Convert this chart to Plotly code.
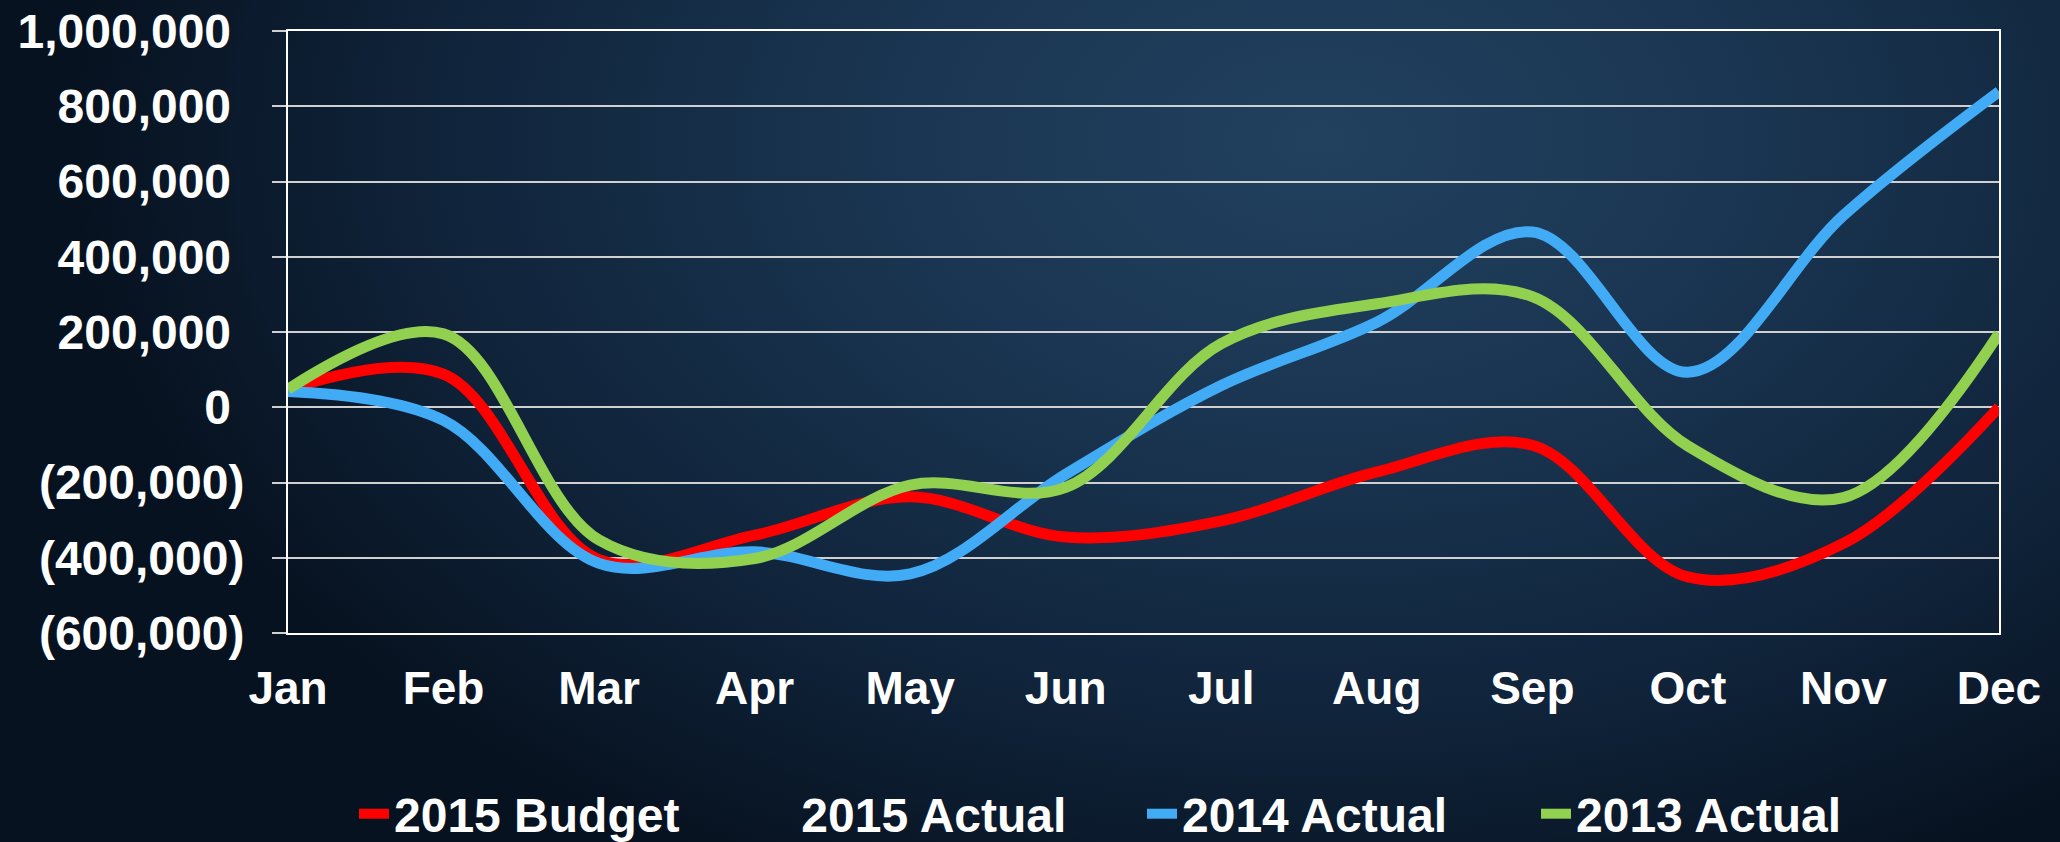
import base64
import plotly.graph_objects as go

months = ["Jan", "Feb", "Mar", "Apr", "May", "Jun", "Jul", "Aug", "Sep", "Oct", "Nov", "Dec"]
budget_2015 = [48000, 88000, -405000, -340000, -238000, -345000, -302000, -172000, -101000, -451000, -362000, 0]
actual_2015 = [None] * 12
actual_2014 = [42000, -35000, -415000, -384000, -443000, -178000, 58000, 226000, 466000, 93000, 510000, 839000]
actual_2013 = [48000, 195000, -353000, -402000, -207000, -213000, 169000, 275000, 294000, -103000, -240000, 196000]

y_tickvals = [-600000, -400000, -200000, 0, 200000, 400000, 600000, 800000, 1000000]
y_ticktext = ["(600,000)", "(400,000)", "(200,000)", "0\u00a0", "200,000\u00a0", "400,000\u00a0",
              "600,000\u00a0", "800,000\u00a0", "1,000,000\u00a0"]

W, H = 2060, 842
ML, MR, MT, MB = 288, 61, 31, 209
PW, PH = W - ML - MR, H - MT - MB

svg = f"""<svg xmlns='http://www.w3.org/2000/svg' width='{W}' height='{H}' viewBox='0 0 {W} {H}' preserveAspectRatio='none'>
<defs><radialGradient id='g' cx='0' cy='0' r='1' gradientUnits='userSpaceOnUse'
 gradientTransform='translate(1320 140) scale(1250 820)'>
<stop offset='0' stop-color='#21415f'/>
<stop offset='0.35' stop-color='#1a3551'/>
<stop offset='0.7' stop-color='#10243b'/>
<stop offset='1' stop-color='#071220'/>
</radialGradient></defs>
<rect width='{W}' height='{H}' fill='url(#g)'/></svg>"""
bg_uri = "data:image/svg+xml;base64," + base64.b64encode(svg.encode()).decode()

FONT = "Liberation Sans, Arial, sans-serif"

fig = go.Figure()
series = [
    ("2015 Budget", budget_2015, "#ff0000"),
    ("\u00a02015 Actual", actual_2015, "rgba(0,0,0,0)"),
    ("2014 Actual", actual_2014, "#41abf5"),
    ("2013 Actual", actual_2013, "#92d050"),
]
for name, vals, col in series:
    fig.add_trace(go.Scatter(
        x=months, y=vals, name=name, mode="lines",
        line=dict(color=col, width=11, shape="spline", smoothing=1.0),
    ))

LEG_TOP = 776
fig.update_layout(
    width=W, height=H,
    margin=dict(l=ML, r=MR, t=MT, b=MB, pad=0, autoexpand=False),
    paper_bgcolor="#0c1b2e",
    plot_bgcolor="rgba(0,0,0,0)",
    font=dict(family=FONT, size=46, color="white"),
    showlegend=True,
    legend=dict(
        orientation="h", x=(354 - ML) / PW, xanchor="left",
        y=(MT + PH - LEG_TOP) / PH, yanchor="top",
        font=dict(family=FONT, size=48, color="white", weight="bold"),
        bgcolor="rgba(0,0,0,0)", entrywidth=349, entrywidthmode="pixels",
        traceorder="normal",
    ),
    images=[dict(
        source=bg_uri, xref="paper", yref="paper",
        x=-ML / PW, y=1 + MT / PH, sizex=W / PW, sizey=H / PH,
        xanchor="left", yanchor="top", sizing="stretch", layer="below",
    )],
)
fig.update_xaxes(
    type="category", range=[0, 11], showgrid=False, zeroline=False,
    showline=True, linecolor="white", linewidth=2, mirror=True,
    ticks="", ticklabelstandoff=14,
    tickfont=dict(family=FONT, size=46, color="white", weight="bold"),
)
fig.update_yaxes(
    range=[-600000, 1000000], tickvals=y_tickvals, ticktext=y_ticktext,
    showgrid=True, gridcolor="#d0d0d0", gridwidth=1.5, zeroline=False,
    showline=True, linecolor="white", linewidth=2, mirror=True,
    ticks="outside", ticklen=14, tickcolor="#d0d0d0", tickwidth=1.5,
    ticklabelstandoff=18,
    tickfont=dict(family=FONT, size=48, color="white", weight="bold"),
)

fig.write_html(
    "out.html",
    config={"displayModeBar": False},
    post_script="document.body.style.margin='0px';document.body.style.overflow='hidden';",
)
